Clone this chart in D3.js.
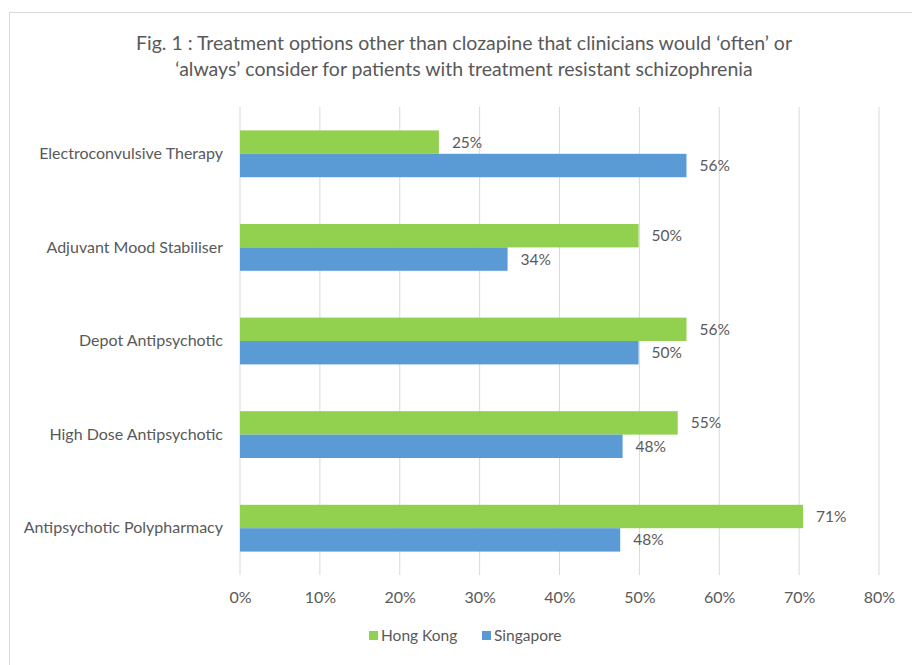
<!DOCTYPE html>
<html>
<head>
<meta charset="utf-8">
<script src="https://cdn.jsdelivr.net/npm/d3@7"></script>
<style>
  body { margin: 0; background: #fff; }
  svg text { font-family: Lato, "Open Sans", sans-serif; fill: #595959; }
</style>
</head>
<body>
<svg id="chart" width="912" height="665"></svg>
<script>
// Data (bar lengths as drawn, labels rounded)
const categories = [
  'Electroconvulsive Therapy',
  'Adjuvant Mood Stabiliser',
  'Depot Antipsychotic',
  'High Dose Antipsychotic',
  'Antipsychotic Polypharmacy'
];
const seriesNames = ['Hong Kong', 'Singapore'];
const hongKong = [24.9, 49.9, 55.9, 54.8, 70.5];
const singapore = [55.9, 33.5, 49.9, 47.9, 47.6];
const xTicks = [0, 10, 20, 30, 40, 50, 60, 70, 80];
const titleLines = [
  'Fig. 1 : Treatment options other than clozapine that clinicians would \u2018often\u2019 or',
  '\u2018always\u2019 consider for patients with treatment resistant schizophrenia'
];

const colors = { 'Hong Kong': '#92D050', 'Singapore': '#5B9BD5' };

const svg = d3.select('#chart');

// frame
svg.append('rect')
  .attr('x', 9.5).attr('y', 12.5)
  .attr('width', 920).attr('height', 680)
  .attr('fill', 'none')
  .attr('stroke', '#d9d9d9');

const margin = { left: 240, right: 33, top: 107, bottom: 90 };
const width = 912 - margin.left - margin.right;
const height = 665 - margin.top - margin.bottom;

const g = svg.append('g')
  .attr('transform', `translate(${margin.left},${margin.top})`);

const x = d3.scaleLinear().domain([0, 80]).range([0, width]);
const y = d3.scaleBand().domain(categories).range([0, height]).paddingInner(0.5).paddingOuter(0.25);
const ySub = d3.scaleBand().domain(seriesNames).range([0, y.bandwidth()]);

// grid
g.append('g')
  .attr('class', 'grid')
  .selectAll('line')
  .data(xTicks)
  .join('line')
  .attr('x1', d => x(d)).attr('x2', d => x(d))
  .attr('y1', 0).attr('y2', height)
  .attr('stroke', '#d9d9d9')
  .attr('stroke-width', 1);

// x axis labels
const xAxis = g.append('g')
  .attr('transform', `translate(0,${height})`)
  .call(d3.axisBottom(x).tickValues(xTicks).tickFormat(d => d + '%').tickSize(0).tickPadding(17));
xAxis.select('.domain').remove();
xAxis.selectAll('text')
  .style('font-size', '16px')
  .style('fill', '#595959')
  .style('font-family', 'Lato, sans-serif');

// y axis labels
const yAxis = g.append('g')
  .call(d3.axisLeft(y).tickSize(0).tickPadding(17));
yAxis.select('.domain').remove();
yAxis.selectAll('text')
  .style('font-size', '16px')
  .style('fill', '#595959')
  .style('font-family', 'Lato, sans-serif');

// bars
const rows = categories.map((c, i) => ({
  category: c,
  values: [
    { name: 'Hong Kong', value: hongKong[i] },
    { name: 'Singapore', value: singapore[i] }
  ]
}));

const groups = g.selectAll('.cat')
  .data(rows)
  .join('g')
  .attr('class', 'cat')
  .attr('transform', d => `translate(0,${y(d.category)})`);

groups.selectAll('rect')
  .data(d => d.values)
  .join('rect')
  .attr('x', x(0))
  .attr('y', d => ySub(d.name))
  .attr('width', d => x(d.value) - x(0))
  .attr('height', ySub.bandwidth())
  .attr('fill', d => colors[d.name]);

groups.selectAll('text.val')
  .data(d => d.values)
  .join('text')
  .attr('class', 'val')
  .attr('x', d => x(d.value) + 13)
  .attr('y', d => ySub(d.name) + ySub.bandwidth() / 2)
  .attr('dy', '0.35em')
  .style('font-size', '15.5px')
  .text(d => Math.round(d.value) + '%');

// title
svg.append('text')
  .attr('x', 464)
  .attr('y', 50)
  .attr('text-anchor', 'middle')
  .style('font-size', '19.5px')
  .selectAll('tspan')
  .data(titleLines)
  .join('tspan')
  .attr('x', 464)
  .attr('dy', (d, i) => i === 0 ? 0 : 26)
  .text(d => d);

// legend
const legend = svg.append('g')
  .attr('transform', 'translate(369,636)');
const legendOffsets = [0, 113];
seriesNames.forEach((name, i) => {
  const item = legend.append('g').attr('transform', `translate(${legendOffsets[i]},0)`);
  item.append('rect')
    .attr('x', 0).attr('y', -5)
    .attr('width', 9).attr('height', 9)
    .attr('fill', colors[name]);
  item.append('text')
    .attr('x', 12).attr('y', 0)
    .attr('dy', '0.35em')
    .style('font-size', '15.5px')
    .text(name);
});
</script>
</body>
</html>
